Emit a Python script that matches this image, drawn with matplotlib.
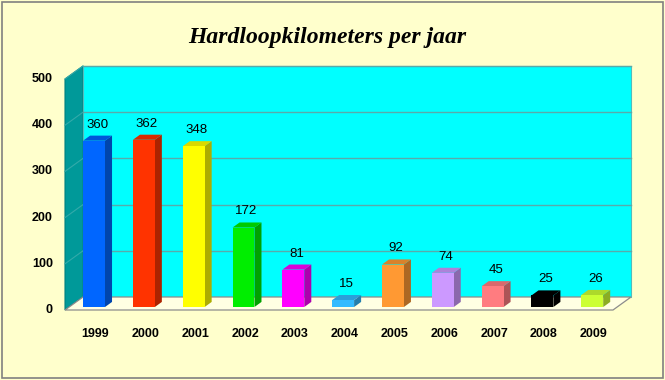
import matplotlib
matplotlib.use("Agg")
import matplotlib.pyplot as plt
from matplotlib.patches import Polygon, Rectangle
import numpy as np

years = ["1999", "2000", "2001", "2002", "2003", "2004", "2005", "2006", "2007", "2008", "2009"]
km = [360, 362, 348, 172, 81, 15, 92, 74, 45, 25, 26]
bar_colors = ["#0066FF", "#FF3300", "#FFFF00", "#00EE00", "#FF00FF", "#33BBFF",
              "#FF9933", "#CC99FF", "#FF7C80", "#000000", "#CCFF33"]
yticks = [0, 100, 200, 300, 400, 500]

W, H = 665, 380
fig = plt.figure(figsize=(W / 100, H / 100), dpi=100)
fig.patch.set_facecolor("#FFFFCC")
fig.patches.append(Rectangle((1.5 / W, 2.5 / H), (W - 3.5) / W, (H - 4.5) / H,
                             transform=fig.transFigure, facecolor="none",
                             edgecolor="#808080", lw=1.2))

# front plane of the 3D box (pixels): x 65..613, y(0)=310, y(500)=79 from top
left, right, y0, y500 = 65, 613, 310, 79
ax = fig.add_axes([left / W, (H - y0) / H, (right - left) / W, (y0 - y500) / H])
ax.set_xlim(-0.5, len(years) - 0.5)
ax.set_ylim(0, 500)
ax.axis("off")

px_x = (right - left) / len(years)     # pixels per category
px_y = (y0 - y500) / 500.0             # pixels per unit
DX = 18 / px_x                         # full depth offset in data units
DY = 13 / px_y

def P(x, y, d):
    return (x + d * DX, y + d * DY)

n = len(years)
xl, xr = -0.5, n - 0.5

# left wall
ax.add_patch(Polygon([P(xl, 0, 0), P(xl, 0, 1), P(xl, 500, 1), P(xl, 500, 0)],
                     closed=True, facecolor="#009999", edgecolor="#007F7F",
                     lw=0.8, clip_on=False, zorder=1))
# back wall
ax.add_patch(Polygon([P(xl, 0, 1), P(xr, 0, 1), P(xr, 500, 1), P(xl, 500, 1)],
                     closed=True, facecolor="#00FFFF", edgecolor="#55BBBB",
                     lw=0.8, clip_on=False, zorder=1))
# floor
ax.add_patch(Polygon([P(xl, 0, 0), P(xr, 0, 0), P(xr, 0, 1), P(xl, 0, 1)],
                     closed=True, facecolor="#FFFFE3", edgecolor="#8C8C8C",
                     lw=0.9, clip_on=False, zorder=1))
# gridlines
for v in yticks[1:]:
    a, b = P(xl, v, 1), P(xr, v, 1)
    ax.plot([a[0], b[0]], [a[1], b[1]], color="#5AAAAA", lw=1.0, zorder=2, clip_on=False)
    c = P(xl, v, 0)
    ax.plot([c[0], a[0]], [c[1], a[1]], color="#33AAAA", lw=0.8, zorder=2, clip_on=False)

# bars
d0, d1 = 0.23, 0.62
hw = 0.22
def shade(col, f):
    rgb = np.array(matplotlib.colors.to_rgb(col))
    return tuple(rgb * f)

for i, (v, col) in enumerate(zip(km, bar_colors)):
    front = [P(i - hw, 0, d0), P(i + hw, 0, d0), P(i + hw, v, d0), P(i - hw, v, d0)]
    side = [P(i + hw, 0, d0), P(i + hw, 0, d1), P(i + hw, v, d1), P(i + hw, v, d0)]
    top = [P(i - hw, v, d0), P(i + hw, v, d0), P(i + hw, v, d1), P(i - hw, v, d1)]
    ax.add_patch(Polygon(side, closed=True, facecolor=shade(col, 0.68), lw=0, zorder=3, clip_on=False))
    ax.add_patch(Polygon(top, closed=True, facecolor=shade(col, 0.85), lw=0, zorder=3, clip_on=False))
    ax.add_patch(Polygon(front, closed=True, facecolor=col, lw=0, zorder=4, clip_on=False))
    lx, _ = P(i, v, d0)
    _, ly = P(i, v, d1)
    ax.text(lx + 3 / px_x, ly + 5 / px_y, str(v), ha="center", va="bottom", fontsize=9.5,
            family="Liberation Sans", color="black", zorder=5)

# axis labels
for v in yticks:
    ax.text(-0.5 - 12 / px_x, v, str(v), ha="right", va="center",
            fontsize=9, fontweight="bold", family="Liberation Sans")
for i, y in enumerate(years):
    xx, _ = P(i, 0, d0)
    ax.text(xx + 1.5 / px_x, -24 / px_y, y, ha="center", va="center", fontsize=9,
            fontweight="bold", family="Liberation Sans")

fig.text(327 / W, 1 - 37 / H, "Hardloopkilometers per jaar", ha="center", va="center",
         fontsize=17, fontweight="bold", fontstyle="italic", family="Liberation Serif")

fig.savefig("out.png", dpi=100, facecolor=fig.get_facecolor())
